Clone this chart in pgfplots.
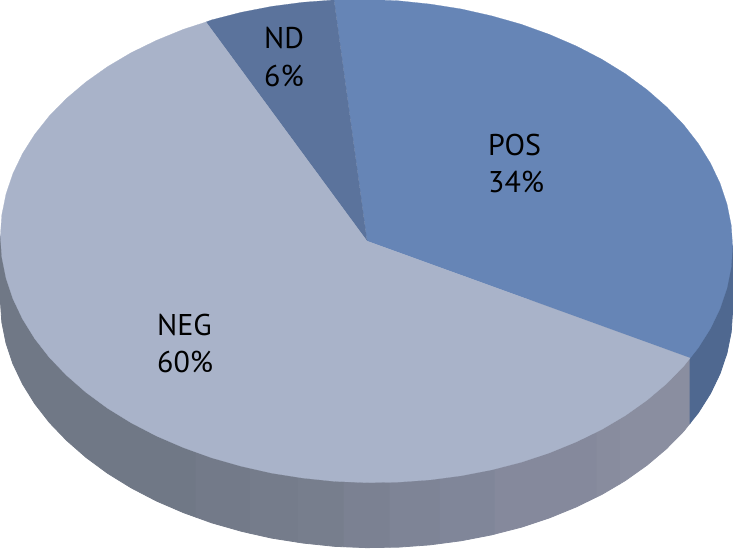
\documentclass[border=0pt]{standalone}
\usepackage{fontspec}
\setmainfont{PT Sans}
\usepackage{pgfplots}
\pgfplotsset{compat=1.18}
\definecolor{pos}{HTML}{6685B6}
\definecolor{nd}{HTML}{5B739C}
\definecolor{neg}{HTML}{A9B3C9}
\definecolor{posw}{HTML}{4F6890}
\begin{document}
\begin{tikzpicture}
\begin{axis}[
    scale only axis, width=733pt, height=549pt,
    xmin=0, xmax=733, ymin=0, ymax=549,
    y dir=reverse, hide axis, clip=true,
    every axis plot/.append style={line width=0.8pt},
  ]
% side wall, bands left to right; tops are hidden under the slices
\addplot[fill={rgb,255:red,112;green,120;blue,134}, draw={rgb,255:red,112;green,120;blue,134}] coordinates {
  (0.5,236) (0.5,300.9) (1.9,321.9) (6.1,342.9) (13,363.6) (22.6,383.8) (34.8,403.5) (49.5,422.4)
  (66.7,440.3) (86.1,457.3) (107.7,473.2) (131.2,487.7) (156.6,500.9) (183.5,512.5) (196,517) (196,300)
} --cycle;
\addplot[fill={rgb,255:red,115;green,122;blue,137}, draw={rgb,255:red,115;green,122;blue,137}] coordinates {
  (196,300) (196,517) (211.8,522.7) (241.3,531.1) (250,533.1) (250,300)
} --cycle;
\addplot[fill={rgb,255:red,117;green,124;blue,139}, draw={rgb,255:red,117;green,124;blue,139}] coordinates {
  (250,300) (250,533.1) (271.8,538) (298,542.1) (298,300)
} --cycle;
\addplot[fill={rgb,255:red,119;green,126;blue,141}, draw={rgb,255:red,119;green,126;blue,141}] coordinates {
  (298,300) (298,542.1) (302.9,542.9) (334.6,546.2) (344,546.6) (344,300)
} --cycle;
\addplot[fill={rgb,255:red,123;green,129;blue,146}, draw={rgb,255:red,123;green,129;blue,146}] coordinates {
  (344,300) (344,546.6) (366.5,547.5) (390,547.1) (390,300)
} --cycle;
\addplot[fill={rgb,255:red,126;green,132;blue,150}, draw={rgb,255:red,126;green,132;blue,150}] coordinates {
  (390,300) (390,547.1) (398.4,547) (430.1,544.7) (440,543.4) (440,300)
} --cycle;
\addplot[fill={rgb,255:red,128;green,134;blue,153}, draw={rgb,255:red,128;green,134;blue,153}] coordinates {
  (440,300) (440,543.4) (461.2,540.6) (491.7,534.7) (495,533.8) (495,300)
} --cycle;
\addplot[fill={rgb,255:red,133;green,137;blue,156}, draw={rgb,255:red,133;green,137;blue,156}] coordinates {
  (495,300) (495,533.8) (521.2,527.1) (549.5,517.7) (576.4,506.7) (597,496.6) (597,300)
} --cycle;
\addplot[fill={rgb,255:red,136;green,140;blue,158}, draw={rgb,255:red,136;green,140;blue,158}] coordinates {
  (597,300) (597,496.6) (601.8,494.3) (620,483.6) (620,300)
} --cycle;
\addplot[fill={rgb,255:red,138;green,142;blue,160}, draw={rgb,255:red,138;green,142;blue,160}] coordinates {
  (620,300) (620,483.6) (625.3,480.4) (646.9,465.1) (666.3,448.7) (683.5,431.2) (690,423) (690,300)
} --cycle;
\addplot[fill=posw, draw=posw] coordinates {
  (690,300) (690,423) (698.2,412.7) (710.4,393.4) (720,373.4) (726.9,352.9) (731.1,332) (732.5,311.1) (732.5,246.1)
} --cycle;
% POS
\addplot[fill=pos, draw=pos, line width=0.2pt] coordinates {
  (367,241) (334,0) (366.5,-0.5) (398.4,0.8) (430.1,4.1) (461.2,9) (491.7,15.9) (521.2,24.3) (549.5,34.5)
  (576.4,46.1) (601.8,59.3) (625.3,73.8) (646.9,89.7) (666.3,106.7) (683.5,124.6) (698.2,143.5) (710.4,163.2)
  (720,183.4) (726.9,204.1) (731.1,225.1) (732.5,246.1) (731.1,267) (726.9,287.9) (720,308.4) (710.4,328.4)
  (698.2,347.7) (690,358)
} --cycle;
% ND
\addplot[fill=nd, draw=nd, line width=0.2pt] coordinates {
  (367,241) (206,22) (211.8,19.9) (241.3,12.3) (271.8,6.4) (302.9,2.3) (334,0)
} --cycle;
% NEG
\addplot[fill=neg, draw=neg, line width=0.2pt] coordinates {
  (367,241) (690,358) (683.5,366.2) (666.3,383.7) (646.9,400.1) (625.3,415.4) (601.8,429.3) (576.4,441.7)
  (549.5,452.7) (521.2,462.1) (491.7,469.7) (461.2,475.6) (430.1,479.7) (398.4,482) (366.5,482.5) (334.6,481.2)
  (302.9,477.9) (271.8,473) (241.3,466.1) (211.8,457.7) (183.5,447.5) (156.6,435.9) (131.2,422.7) (107.7,408.2)
  (86.1,392.3) (66.7,375.3) (49.5,357.4) (34.8,338.5) (22.6,318.8) (13,298.6) (6.1,277.9) (1.9,256.9) (0.5,235.9)
  (1.9,214.9) (6.1,194.1) (13,173.6) (22.6,153.6) (34.8,134.3) (49.5,115.8) (66.7,98.3) (86.1,81.9) (107.7,66.6)
  (131.2,52.7) (156.6,40.3) (183.5,29.3) (206,22)
} --cycle;
\node[anchor=west, align=left, font=\fontsize{30}{37}\selectfont, inner sep=0pt] at (axis cs:488,163) {POS\\34\%};
\node[anchor=west, align=left, font=\fontsize{30}{37}\selectfont, inner sep=0pt] at (axis cs:264,57) {ND\\6\%};
\node[anchor=west, align=left, font=\fontsize{30}{37}\selectfont, inner sep=0pt] at (axis cs:157,343) {NEG\\60\%};
\end{axis}
\end{tikzpicture}
\end{document}
